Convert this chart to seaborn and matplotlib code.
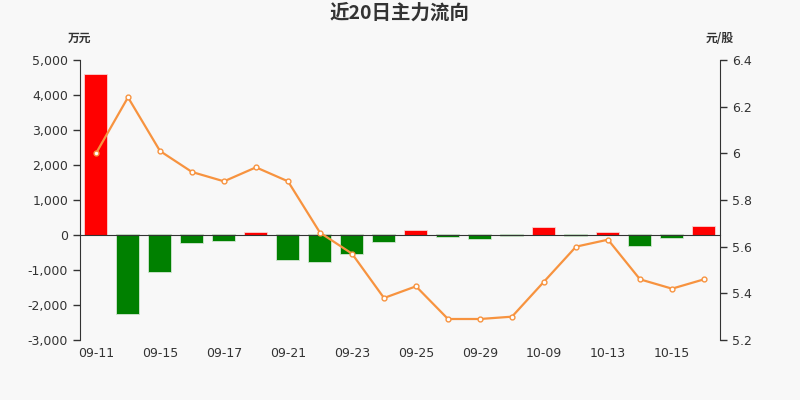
import pandas as pd
import matplotlib
matplotlib.use('Agg')
import matplotlib.pyplot as plt
import seaborn as sns
from matplotlib.ticker import FuncFormatter, FixedLocator

# data
dates = ['09-11', '09-14', '09-15', '09-16', '09-17', '09-18', '09-21', '09-22', '09-23', '09-24',
         '09-25', '09-28', '09-29', '09-30', '10-09', '10-12', '10-13', '10-14', '10-15', '10-16']
flow = [4580, -2266, -1067, -238, -171, 57, -714, -781, -533, -210,
        105, -48, -105, -30, 190, -15, 48, -305, -95, 229]
price = [6.00, 6.24, 6.01, 5.92, 5.88, 5.94, 5.88, 5.66, 5.57, 5.38,
         5.43, 5.29, 5.29, 5.30, 5.45, 5.60, 5.63, 5.46, 5.42, 5.46]

sns.set_style('white')
plt.rcParams['font.family'] = ['DejaVu Sans', 'Noto Sans CJK SC']

bg = '#f8f8f8'
txt = '#333333'

df = pd.DataFrame({'date': dates, 'flow': flow, 'price': price})
df['pos'] = range(len(df))
df['sign'] = ['up' if v >= 0 else 'down' for v in df['flow']]

fig = plt.figure(figsize=(8, 4), dpi=100, facecolor=bg)
ax = fig.add_axes([0.1, 0.15, 0.8, 0.7])
ax.set_facecolor(bg)

sns.barplot(data=df, x='pos', y='flow', hue='sign', palette={'up': '#ff0000', 'down': '#008000'},
            dodge=False, width=0.69, legend=False, ax=ax, native_scale=True, saturation=1)
for p in ax.patches:
    fc = p.get_facecolor()
    p.set_edgecolor((fc[0], fc[1], fc[2], 0.25))
    p.set_linewidth(1.2)

ax.set_xlim(-0.5, len(dates) - 0.5)
ax.set_ylim(-3000, 5000)
ax.set_yticks(range(-3000, 5001, 1000))
ax.yaxis.set_major_formatter(FuncFormatter(lambda v, _: f'{v:,.0f}'))
ax.set_xlabel('')
ax.set_ylabel('')

# x axis line on zero, ticks between every second pair of bars
for s in ['top', 'right']:
    ax.spines[s].set_visible(False)
ax.spines['bottom'].set_position(('data', 0))
ax.spines['bottom'].set_color(txt)
ax.spines['left'].set_color(txt)
ax.xaxis.set_major_locator(FixedLocator([i + 1.5 for i in range(0, len(dates) - 2, 2)]))
ax.xaxis.set_major_formatter(FuncFormatter(lambda v, _: ''))
ax.tick_params(axis='x', length=4, width=1, color=txt, direction='out')
ax.tick_params(axis='y', length=5, width=1, color=txt, labelsize=9, labelcolor=txt)

sec = ax.secondary_xaxis(0)
sec.set_xticks(range(0, len(dates), 2))
sec.set_xticklabels(dates[::2])
sec.tick_params(length=0, labelsize=9, labelcolor=txt, pad=5)
sec.spines['bottom'].set_visible(False)

ax2 = ax.twinx()
sns.lineplot(data=df, x='pos', y='price', ax=ax2, color='#f7933f', linewidth=1.6,
             marker='o', markersize=3.5, markerfacecolor='white', markeredgecolor='#f7933f',
             markeredgewidth=1)
ax2.set_ylim(5.2, 6.4)
ax2.set_yticks([5.2, 5.4, 5.6, 5.8, 6.0, 6.2, 6.4])
ax2.yaxis.set_major_formatter(FuncFormatter(lambda v, _: f'{round(v, 1):g}'))
ax2.set_xlim(-0.5, len(dates) - 0.5)
ax2.set_xlabel('')
ax2.set_ylabel('')
for s in ['top', 'left', 'bottom']:
    ax2.spines[s].set_visible(False)
ax2.spines['right'].set_color(txt)
ax2.tick_params(axis='y', length=5, width=1, color=txt, labelsize=9, labelcolor=txt)

fig.text(0.5, 0.967, '近20日主力流向', ha='center', va='center', fontsize=14,
         fontweight='bold', color=txt, family=['Noto Sans CJK SC', 'DejaVu Sans'])
fig.text(0.1, 0.905, '万元', ha='center', va='center', fontsize=8.5, fontweight='bold',
         color=txt, family=['Noto Sans CJK SC', 'DejaVu Sans'])
fig.text(0.9, 0.905, '元/股', ha='center', va='center', fontsize=8.5, fontweight='bold',
         color=txt, family=['Noto Sans CJK SC', 'DejaVu Sans'])

plt.savefig('out.png', dpi=100, facecolor=bg)
